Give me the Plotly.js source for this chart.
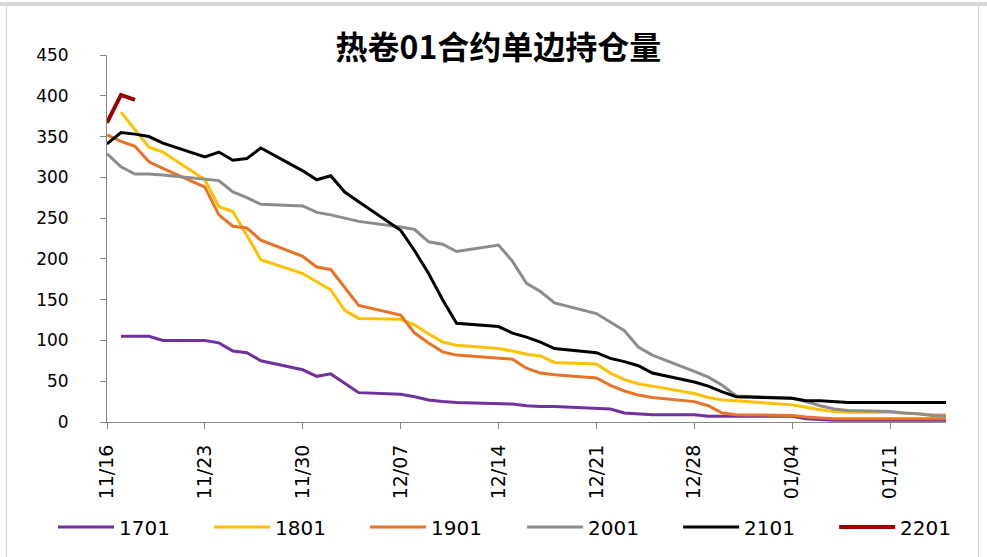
<!DOCTYPE html>
<html>
<head>
<meta charset="utf-8">
<script src="https://cdn.plot.ly/plotly-3.0.1.min.js"></script>
<style>
  html, body { margin: 0; padding: 0; background: #fff; }
  #wrap { position: relative; width: 987px; height: 557px; overflow: hidden; }
  #chart { position: absolute; left: 0; top: 0; width: 987px; height: 557px; }
  .frame { position: absolute; background: #d6d6d6; }
</style>
</head>
<body>
<div id="wrap">
  <div id="chart"></div>
  <div class="frame" style="left:0;top:2px;width:987px;height:4px;"></div>
  <div class="frame" style="left:6px;top:6px;width:1px;height:551px;"></div>
  <div class="frame" style="left:978px;top:6px;width:1px;height:551px;"></div>
</div>
<script>
const dates = [
  '2020-11-16','2020-11-17','2020-11-18','2020-11-19','2020-11-20',
  '2020-11-23','2020-11-24','2020-11-25','2020-11-26','2020-11-27',
  '2020-11-30','2020-12-01','2020-12-02','2020-12-03','2020-12-04',
  '2020-12-07','2020-12-08','2020-12-09','2020-12-10','2020-12-11',
  '2020-12-14','2020-12-15','2020-12-16','2020-12-17','2020-12-18',
  '2020-12-21','2020-12-22','2020-12-23','2020-12-24','2020-12-25',
  '2020-12-28','2020-12-29','2020-12-30','2020-12-31',
  '2021-01-04','2021-01-05','2021-01-06','2021-01-07','2021-01-08',
  '2021-01-11','2021-01-12','2021-01-13','2021-01-14','2021-01-15'
];
const seriesNames = ['1701','1801','1901','2001','2101','2201'];
const s1701 = [null,105,105,105,100, 100,97,87,85,75, 64,56,59,47,36, 34,31,27,25,24, 23,22,20,19,19, 17,16,11,10,9, 9,7,7,7, 7,4,3,2,2, 2,2,2,2,2];
const s1801 = [null,380,358,337,331, 297,264,258,229,199, 182,172,162,137,127, 126,119,108,98,94, 90,87,83,81,73, 71,60,52,47,44, 35,30,27,26, 21,18,15,13,12, 12,11,10,9,9];
const s1901 = [352,344,338,319,311, 288,254,240,238,223, 203,190,187,165,143, 131,109,97,86,82, 78,77,66,60,58, 54,45,38,33,30, 25,20,11,9, 8,6,5,4,4, 4,4,4,4,4];
const s2001 = [329,313,304,304,303, 298,296,282,275,267, 265,257,254,250,246, 239,236,221,218,209, 217,197,170,160,146, 133,123,112,92,82, 62,55,45,32, 29,25,20,16,14, 13,11,10,8,7];
const s2101 = [341,355,353,350,342, 325,331,321,323,336, 308,297,302,282,270, 235,210,182,150,121, 117,109,104,98,90, 85,78,74,69,60, 49,44,37,31, 29,26,26,25,24, 24,24,24,24,24];
const s2201 = [367,401,395];
const tickDates = ['2020-11-16','2020-11-23','2020-11-30','2020-12-07','2020-12-14','2020-12-21','2020-12-28','2021-01-04','2021-01-11'];
const tickLabels = ['11/16','11/23','11/30','12/07','12/14','12/21','12/28','01/04','01/11'];
const yTicks = [0,50,100,150,200,250,300,350,400,450];

const values = [s1701, s1801, s1901, s2001, s2101, s2201];
const colors = ['#7030A0','#FFC000','#E97325','#8C8C8C','#000000','#9A0000'];
const widths = [3,3,3,3,3,4];

const traces = seriesNames.map((n, i) => ({
  type: 'scatter', mode: 'lines', name: n,
  x: dates.slice(0, values[i].length), y: values[i],
  line: { color: colors[i], width: widths[i] },
  legend: i < 3 ? 'legend' : 'legend2',
  connectgaps: false, hoverinfo: 'skip'
}));

const legendBase = {
  orientation: 'h', xref: 'container', xanchor: 'left',
  yref: 'container', y: 0.054, yanchor: 'middle',
  font: { family: 'DejaVu Sans', size: 20, color: '#000' },
  entrywidth: 85, entrywidthmode: 'pixels', itemwidth: 56,
  traceorder: 'normal', bgcolor: 'rgba(0,0,0,0)'
};

const layout = {
  width: 987, height: 557,
  margin: { l: 107, r: 41, t: 55, b: 135 },
  paper_bgcolor: '#ffffff', plot_bgcolor: '#ffffff',
  title: {
    text: '<b>热卷01合约单边持仓量</b>',
    font: { family: 'Noto Sans CJK SC', size: 32, color: '#000' },
    x: 0.505, xref: 'container', xanchor: 'center',
    y: 0.915, yref: 'container', yanchor: 'middle'
  },
  showlegend: true,
  legend: Object.assign({}, legendBase, { x: 0.0537 }),
  legend2: Object.assign({}, legendBase, { x: 0.529 }),
  xaxis: {
    type: 'date', range: ['2020-11-16', '2021-01-15'],
    tickmode: 'array', tickvals: tickDates, ticktext: tickLabels,
    tickangle: -90, ticks: 'outside', ticklen: 6, tickcolor: '#868686',
    showline: true, linecolor: '#868686', linewidth: 1,
    showgrid: false, zeroline: false,
    tickfont: { family: 'DejaVu Sans', size: 19, color: '#000' },
    ticklabelstandoff: 8, fixedrange: true
  },
  yaxis: {
    range: [0, 450], tickmode: 'array', tickvals: yTicks,
    ticks: 'outside', ticklen: 6, tickcolor: '#868686',
    showline: true, linecolor: '#868686', linewidth: 1,
    showgrid: false, zeroline: false,
    tickfont: { family: 'DejaVu Sans', size: 17, color: '#000' },
    ticklabelstandoff: 28, fixedrange: true
  }
};

Plotly.newPlot('chart', traces, layout, { displayModeBar: false, staticPlot: true });
</script>
</body>
</html>
